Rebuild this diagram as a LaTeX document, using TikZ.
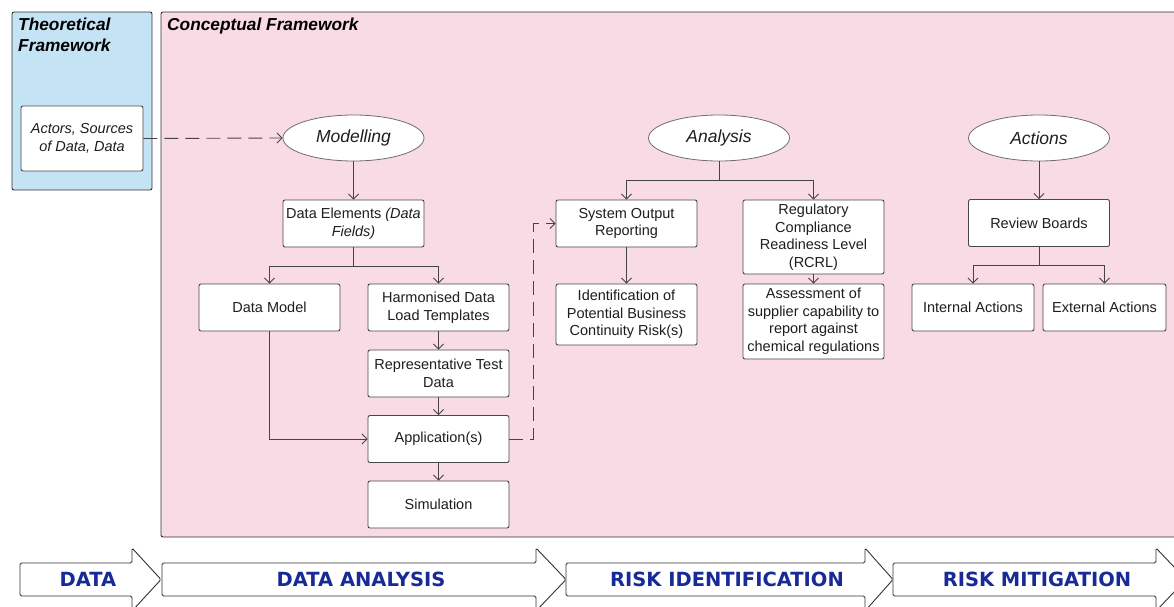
\documentclass[tikz,border=0pt]{standalone}
\usepackage{fontspec}
\setmainfont{Liberation Sans}
\newfontfamily\bannerfont{DejaVu Sans}
\usetikzlibrary{arrows.meta,shapes.geometric}
\definecolor{theobg}{RGB}{196,228,246}
\definecolor{conceptbg}{RGB}{249,219,229}
\definecolor{framedge}{RGB}{50,50,50}
\definecolor{boxedge}{RGB}{72,72,72}
\definecolor{linkcol}{RGB}{68,68,68}
\definecolor{bannerblue}{RGB}{24,42,150}
\definecolor{txt}{RGB}{30,30,30}

\begin{document}
\begin{tikzpicture}[x=1pt,y=-1pt,
  frame/.style={draw=framedge, line width=0.9pt, rounded corners=2pt},
  titletext/.style={font=\fontsize{17.3}{21.5}\selectfont\bfseries\itshape, text=black, align=left, inner sep=0pt},
  box/.style={draw=boxedge, fill=white, line width=0.9pt, rounded corners=2pt, inner sep=0pt,
    align=center, text=txt, font=\fontsize{14.5}{17.5}\selectfont, minimum width=141pt, minimum height=47pt},
  phase/.style={draw=boxedge!80, fill=white, ellipse, line width=0.8pt, inner sep=0pt,
    minimum width=141pt, minimum height=46pt, font=\fontsize{17.5}{20}\selectfont\itshape, text=txt},
  link/.style={draw=linkcol, line width=0.9pt, -{Straight Barb[length=5pt,width=10pt]}},
  dashlink/.style={link, dash pattern=on 14pt off 7pt},
  banner/.style={draw=framedge, fill=white, line width=0.9pt, rounded corners=1.5pt},
  bannertext/.style={font=\bannerfont\bfseries\fontsize{19.5}{20}\selectfont, text=bannerblue, inner sep=0pt},
]
\useasboundingbox (0,0) rectangle (1174,607);
\clip (0,0) rectangle (1174,607);

% ---- framework panels ----
\path[frame, fill=theobg] (12,12) rectangle (152,190);
\node[titletext, anchor=north west] (theotitle) at (18,17.5) {Theoretical\\Framework};
\path[frame, fill=conceptbg] (161,12) rectangle (1190,537);
\node[titletext, anchor=north west] (concepttitle) at (167,17.5) {Conceptual Framework};

\node[box, minimum width=122pt, minimum height=65pt, font=\fontsize{14.5}{17.5}\selectfont\itshape]
  (actors) at (82,138.5) {Actors, Sources\\of Data, Data};

% ---- modelling column ----
\node[phase] (modelling) at (353.5,138) {Modelling};
\node[box] (dataelem) at (353.5,223.5) {Data Elements \textit{(Data}\\\textit{Fields)}};
\node[box] (datamodel) at (269.5,307.5) {Data Model};
\node[box] (harm) at (438.5,307.5) {Harmonised Data\\Load Templates};
\node[box] (rep) at (438.5,373.5) {Representative Test\\Data};
\node[box] (app) at (438.5,439) {Application(s)};
\node[box] (sim) at (438.5,504.5) {Simulation};

% ---- analysis column ----
\node[phase] (analysis) at (719,138) {Analysis};
\node[box] (sysout) at (626.5,223.5) {System Output\\Reporting};
\node[box, minimum height=61pt] (ident) at (626.5,314.5) {Identification of\\Potential Business\\Continuity Risk(s)};
\node[box, minimum height=74pt] (rcrl) at (813.5,237) {Regulatory\\Compliance\\Readiness Level\\(RCRL)};
\node[box, minimum height=75pt] (assess) at (813.5,321.5) {Assessment of\\supplier capability to\\report against\\chemical regulations};

% ---- actions column ----
\node[phase] (actions) at (1039,138) {Actions};
\node[box] (review) at (1039,223) {Review Boards};
\node[box, minimum width=122pt] (internal) at (973,307.5) {Internal Actions};
\node[box, minimum width=123pt] (external) at (1104.5,307.5) {External Actions};

% ---- connectors ----
\draw[dashlink] (actors.east) -- (modelling.west);
\draw[link] (modelling.south) -- (dataelem.north);
\draw[link] (dataelem.south) -- ++(0,18.5) -| (datamodel.north);
\draw[link] (dataelem.south) -- ++(0,18.5) -| (harm.north);
\draw[link] (harm.south) -- (rep.north);
\draw[link] (rep.south) -- (app.north);
\draw[link] (app.south) -- (sim.north);
\draw[link] (datamodel.south) |- (app.west);
\draw[dashlink] (app.east) -- ++(23.5,0) |- (sysout.west);

\draw[link] (analysis.south) -- ++(0,19) -| (sysout.north);
\draw[link] (analysis.south) -- ++(0,19) -| (rcrl.north);
\draw[link] (sysout.south) -- (ident.north);
\draw[link] (rcrl.south) -- (assess.north);

\draw[link] (actions.south) -- (review.north);
\draw[link] (review.south) -- ++(0,18.5) -| (internal.north);
\draw[link] (review.south) -- ++(0,18.5) -| (external.north);

% ---- process stage arrows ----
\path[banner] (20,563) -- (132,563) -- (132,548) -- (161,579.5) -- (132,611) -- (132,596) -- (20,596) -- cycle;
\node[bannertext] (stagedata) at (88,579.5) {DATA};
\path[banner] (162,563) -- (536,563) -- (536,548) -- (566,579.5) -- (536,611) -- (536,596) -- (162,596) -- cycle;
\node[bannertext] (stageanalysis) at (361,579.5) {DATA ANALYSIS};
\path[banner] (566,563) -- (865,563) -- (865,548) -- (893,579.5) -- (865,611) -- (865,596) -- (566,596) -- cycle;
\node[bannertext] (stagerisk) at (727,579.5) {RISK IDENTIFICATION};
\path[banner] (893,563) -- (1156,563) -- (1156,548) -- (1186,579.5) -- (1156,611) -- (1156,596) -- (893,596) -- cycle;
\node[bannertext] (stagemitig) at (1037,579.5) {RISK MITIGATION};
\end{tikzpicture}
\end{document}
